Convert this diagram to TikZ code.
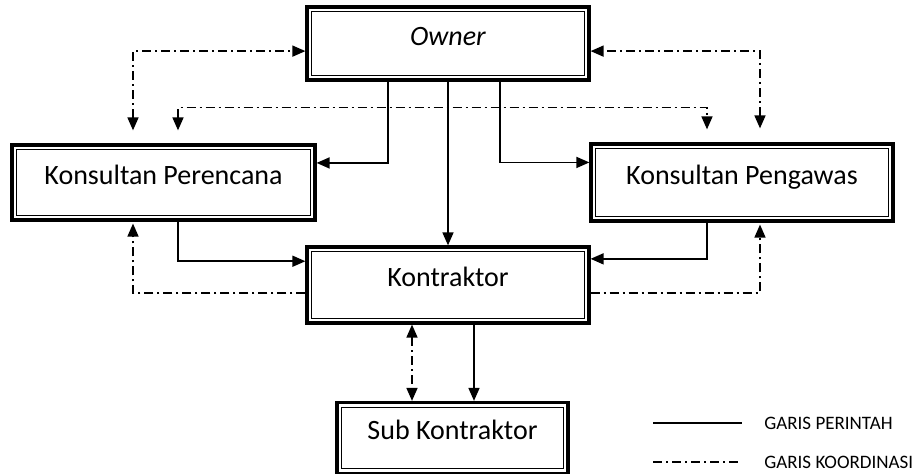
\documentclass[tikz,border=0pt]{standalone}
\usepackage{fontspec}
\setmainfont{Carlito}
\usetikzlibrary{arrows.meta,calc,positioning}

\tikzset{
  frame/.style={draw, line width=1.6pt, font=\fontsize{14}{16}\selectfont,
    text height=10pt, text depth=8pt,
    path picture={\draw[line width=0.5pt]
      ([shift={(2.4pt,2.4pt)}]path picture bounding box.south west) rectangle
      ([shift={(-2.4pt,-2.4pt)}]path picture bounding box.north east);}},
  cmd/.style={line width=0.8pt},
  koord/.style={line width=0.8pt, dash pattern=on 4.5pt off 2pt on 1pt off 2pt},
  legend/.style={font=\fontsize{9.5}{11}\selectfont, anchor=west, inner sep=1pt},
}

\begin{document}
\begin{tikzpicture}[x=0.5pt, y=-0.5pt, >={Triangle[length=6.5pt,width=5.5pt]}]
    \useasboundingbox (0,0) rectangle (918,474);

    % Boxes
    \node[frame, minimum width=141pt, minimum height=36.5pt] (owner) at (448,43.5) {\textit{Owner}};
    \node[frame, minimum width=151.5pt, minimum height=37.5pt] (perencana) at (163.5,182.5) {Konsultan Perencana};
    \node[frame, minimum width=151pt, minimum height=38.5pt] (pengawas) at (742,182.5) {Konsultan Pengawas};
    \node[frame, minimum width=141pt, minimum height=38pt] (kontraktor) at (448,285) {Kontraktor};
    \node[frame, minimum width=115.5pt, minimum height=35.5pt] (subkon) at (452.5,438) {Sub Kontraktor};

    % Garis perintah
    \draw[cmd,->] ($(owner.south)+(-60,0)$) |- ($(perencana.north east)!0.25!(perencana.south east)$);
    \draw[cmd,->] (owner) -- (kontraktor);
    \draw[cmd,->] ($(owner.south)+(52,0)$) |- ($(pengawas.north west)!0.25!(pengawas.south west)$);
    \draw[cmd,->] ($(perencana.south)+(14.5,0)$) |- ($(kontraktor.north west)!0.2!(kontraktor.south west)$);
    \draw[cmd,->] ($(pengawas.south)+(-35,0)$) |- ($(kontraktor.north east)!0.17!(kontraktor.south east)$);
    \draw[cmd,->] ($(kontraktor.south)+(26,0)$) coordinate (k1) -- (k1 |- subkon.north);

    % Garis koordinasi
    \draw[koord,<->] ($(perencana.north)+(-30.5,-13)$) |- ($(owner.north west)!0.6!(owner.south west)$);
    \draw[koord,<->] ($(pengawas.north)+(18,-14)$) |- ($(owner.north east)!0.6!(owner.south east)$);
    \draw[koord,<->] ($(perencana.north)+(14.5,-13)$) -- ++(0,-23) -| ($(pengawas.north)+(-35,-13)$);
    \draw[koord,->] ($(kontraktor.north west)!0.6!(kontraktor.south west)$) -| ($(perencana.south)+(-30.5,2)$);
    \draw[koord,->] ($(kontraktor.north east)!0.6!(kontraktor.south east)$) -| ($(pengawas.south)+(18,2)$);
    \draw[koord,<->] ($(kontraktor.south)+(-36,0)$) coordinate (k2) -- (k2 |- subkon.north);

    % Legend
    \node[legend] (perintah) at (762,423) {GARIS PERINTAH};
    \node[legend] (koordinasi) at (762,462) {GARIS KOORDINASI};
    \coordinate (p1) at ($(perintah.west)+(-109,0)$);
    \coordinate (p2) at ($(perintah.west)+(-20,0)$);
    \coordinate (q1) at ($(koordinasi.west)+(-109,0)$);
    \coordinate (q2) at ($(koordinasi.west)+(-20,0)$);
    \draw[cmd] (p1) -- (p2);
    \draw[koord] (q1) -- (q2);
\end{tikzpicture}
\end{document}
